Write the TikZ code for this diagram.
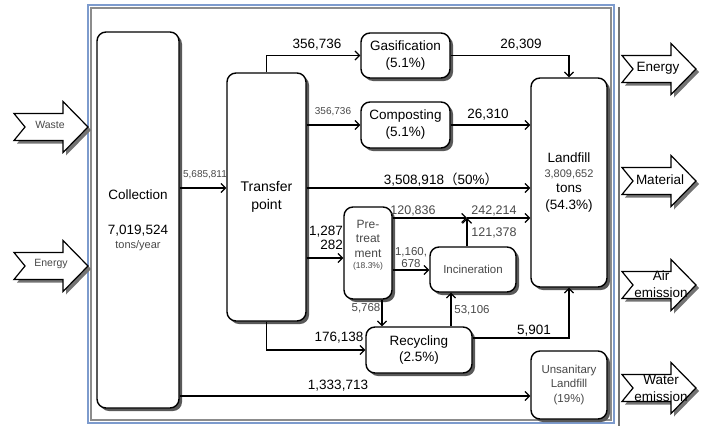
\documentclass[tikz,border=0pt]{standalone}
\usepackage{fontspec}
\setmainfont{Liberation Sans}
\newfontfamily\cjkf{Noto Sans CJK SC}
\usetikzlibrary{arrows.meta,shadows,calc}
\definecolor{txtgray}{RGB}{72,72,72}
\definecolor{framebl}{RGB}{125,155,205}
\tikzset{
  box/.style={draw=black, line width=1.4pt, rounded corners=9pt, fill=white, inner sep=0pt, align=center,
    drop shadow={shadow xshift=3pt, shadow yshift=-3pt, fill=black!65, opacity=1}},
  flow/.style={draw=black, line width=1.2pt, -{Straight Barb[length=4.5pt,width=9pt]}},
  big/.style={font=\fontsize{13.5}{15}\selectfont, text=black, inner sep=0pt, align=center},
  sm/.style={font=\fontsize{11.5}{12.5}\selectfont, text=txtgray, inner sep=0pt, align=center},
  smm/.style={font=\fontsize{12.5}{14}\selectfont, text=txtgray, inner sep=0pt, align=center},
  tiny/.style={font=\fontsize{10}{12}\selectfont, text=txtgray, inner sep=0pt, align=center},
}
\newcommand\bkarrow[2]{%
  \begin{scope}[shift={(#1,#2)}]
    \fill[black!55] (3,-10.5) -- (52,-10.5) -- (52,-22.5) -- (77,3) -- (52,28.5) -- (52,16.5) -- (3,16.5) -- (14,3) -- cycle;
    \draw[fill=white,line width=1.2pt,line join=miter] (0,-13.5) -- (49,-13.5) -- (49,-25.5) -- (74,0) -- (49,25.5) -- (49,13.5) -- (0,13.5) -- (11,0) -- cycle;
  \end{scope}}
\begin{document}
\begin{tikzpicture}[x=1pt,y=-1pt]
\useasboundingbox (0,0) rectangle (704,426);
% frame
\draw[framebl, line width=1.2pt] (88,5) rectangle (614,423);
\draw[black!45, line width=1.2pt] (91,8) rectangle (611,420);
\draw[black!55, line width=2pt] (619,7) -- (619,426);

% block arrows
\bkarrow{14}{127}
\node[tiny, font=\fontsize{10.5}{12}\selectfont] (twaste) at (50,125) {Waste};
\bkarrow{14}{266}
\node[tiny, font=\fontsize{10.5}{12}\selectfont] (tenergyin) at (51,264) {Energy};
\bkarrow{622}{69}
\node[big] (tenergy) at (658,68) {Energy};
\bkarrow{622}{181}
\node[big] (tmaterial) at (660,180) {Material};
\bkarrow{622}{285}
\node[big, font=\fontsize{13.5}{17}\selectfont] (tair) at (661,284) {Air\\emission};
\bkarrow{622}{388}
\node[big, font=\fontsize{13.5}{17}\selectfont] (twater) at (661,388) {Water\\emission};

% boxes
\node[box, minimum width=82pt, minimum height=376pt, font=\fontsize{13.5}{15}\selectfont] (coll) at (138,220)
  {Collection\\[20pt]7,019,524\\[-1.5pt]{\fontsize{11}{12}\selectfont\color{txtgray}tons/year}};
\node[box, minimum width=79pt, minimum height=248pt, font=\fontsize{14}{18}\selectfont] (tp) at (266.5,197) {Transfer\\point};
\node[box, minimum width=89pt, minimum height=45pt, font=\fontsize{13.5}{17}\selectfont] (gas) at (405.5,55.5) {Gasification\\(5.1\%)};
\node[box, minimum width=89pt, minimum height=46pt, font=\fontsize{13.5}{17}\selectfont] (comp) at (405.5,125) {Composting\\(5.1\%)};
\node[box, minimum width=76pt, minimum height=209pt, font=\fontsize{13.5}{15}\selectfont] (lf) at (569,182.5)
  {Landfill\\{\fontsize{11}{12}\selectfont\color{txtgray}3,809,652}\\tons\\[2pt](54.3\%)};
\node[box, minimum width=48pt, minimum height=92pt] (pre) at (368,253) {};
\node[sm, font=\fontsize{12}{14.5}\selectfont] (pretxt) at (368,245) {Pre-\\treat\\ment\\[-3.5pt]{\fontsize{8.5}{10}\selectfont (18.3\%)}};
\node[box, minimum width=86pt, minimum height=45pt, font=\fontsize{11.5}{13}\selectfont, text=txtgray] (inc) at (473,269.5) {Incineration};
\node[box, minimum width=106pt, minimum height=46pt, font=\fontsize{13.5}{16}\selectfont] (rec) at (419,350) {Recycling\\(2.5\%)};
\node[box, minimum width=76pt, minimum height=68pt, font=\fontsize{11.5}{14.5}\selectfont, text=txtgray] (uns) at (569,385) {Unsanitary\\Landfill\\(19\%)};

% helper coordinates
\coordinate (y188) at (0,188);
\coordinate (y218) at (0,218);
\coordinate (y258) at (0,258);
\coordinate (y270) at (0,270);
\coordinate (y338) at (0,338);
\coordinate (y396) at (0,396);
\coordinate (x382) at (382,0);
\coordinate (x451) at (451,0);
\coordinate (x467) at (467,0);
\coordinate (merge) at (x467 |- y218);

% connectors
\draw[flow] (coll.east |- y188) -- (tp.west |- y188);
\draw[flow] (tp.north) |- (gas.west);
\draw[flow] (tp.east |- comp.west) -- (comp.west);
\draw[flow] (gas.east) -| (lf.north);
\draw[flow] (comp.east) -- (comp.east -| lf.west);
\draw[flow] (tp.east |- y188) -- (lf.west |- y188);
\draw[flow] (tp.east |- y258) -- (pre.west |- y258);
\draw[flow] (pre.east |- y218) -- (merge);
\draw[flow] (merge) -- (lf.west |- y218);
\draw[flow] (inc.north -| x467) -- (merge);
\draw[flow] (pre.east |- y270) -- (inc.west |- y270);
\draw[flow] (pre.south -| x382) -- (rec.north -| x382);
\draw[flow] (rec.north -| x451) -- (inc.south -| x451);
\draw[flow] (rec.east |- y338) -| (lf.south);
\draw[flow] (tp.south) |- (rec.west);
\draw[flow] (coll.east |- y396) -- (uns.west |- y396);

% labels
\node[tiny] (l1) at (205,175) {5,685,811};
\node[big] (l2) at (317,45) {356,736};
\node[tiny] (l3) at (333,112) {356,736};
\node[big] (l4) at (521,45) {26,309};
\node[big] (l5) at (488,115) {26,310};
\node[big] (l6) at (441,180) {3,508,918{\cjkf （}50\%{\cjkf ）}};
\node[big, anchor=east, align=right, font=\fontsize{13.5}{14}\selectfont] (l7) at (343,238) {1,287\\282};
\node[smm] (l8) at (413,211) {120,836};
\node[smm] (l9) at (494,211) {242,214};
\node[smm] (l10) at (494,233) {121,378};
\node[sm, font=\fontsize{11.5}{12}\selectfont] (l11) at (411,258) {1,160,\\678};
\node[sm] (l12) at (366,308) {5,768};
\node[sm] (l13) at (472,310) {53,106};
\node[big] (l14) at (534,331) {5,901};
\node[big] (l15) at (339,338) {176,138};
\node[big] (l16) at (338,386) {1,333,713};
\end{tikzpicture}
\end{document}
